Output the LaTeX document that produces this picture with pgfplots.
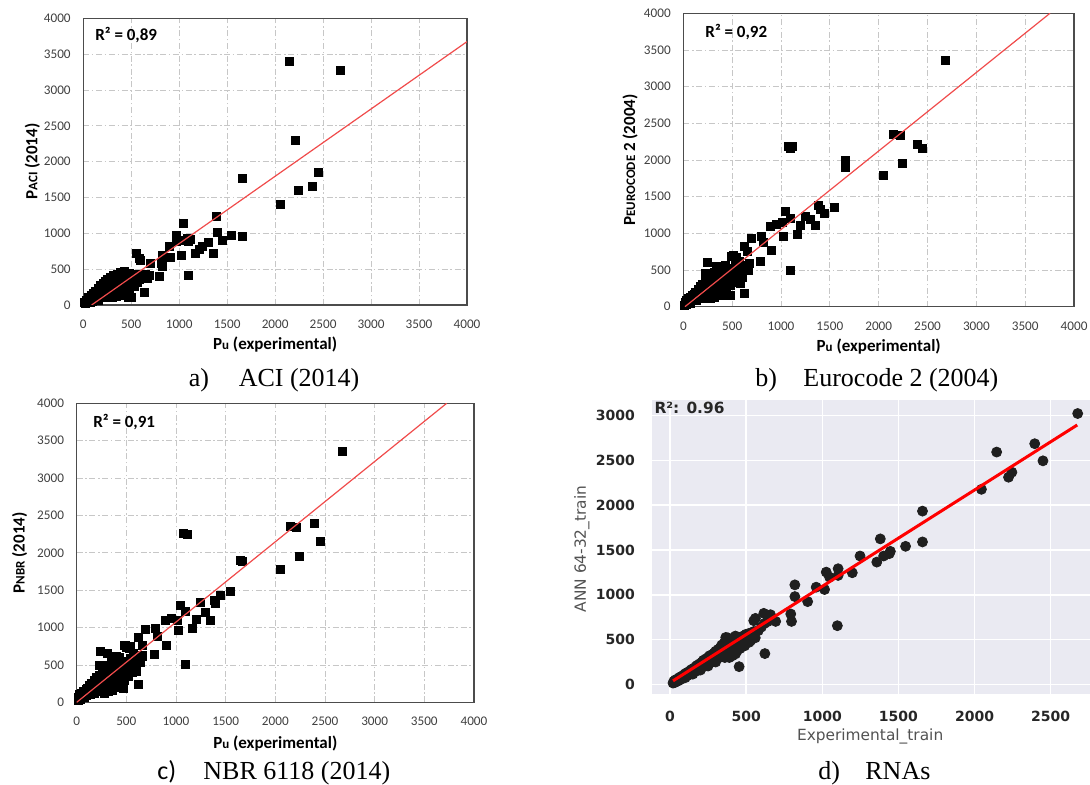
\documentclass[border=0pt]{standalone}
\usepackage{pgfplots}
\pgfplotsset{compat=1.18}
\usepackage{fontspec}
\setmainfont{Liberation Serif}
\newfontfamily\carlito{Carlito}
\newfontfamily\dejavu{DejaVu Sans}

\definecolor{redline}{RGB}{240,75,75}
\definecolor{sbbg}{RGB}{234,234,242}
\definecolor{sbtext}{RGB}{38,38,38}

% Excel-like panels a)-c)
\pgfplotsset{
  excel/.style={
    scale only axis, anchor=south west,
    xmin=0, xmax=4000, ymin=0, ymax=4000,
    xtick={0,500,...,4000}, ytick={0,500,...,4000},
    grid=major,
    grid style={black!22, line width=0.4pt, dash pattern=on 3pt off 1.3pt on 0.8pt off 1.3pt},
    major tick length=0pt,
    axis line style={black!70, line width=0.6pt},
    /pgf/number format/assume math mode=true,
    /pgf/number format/1000 sep={},
    ticklabel style={font=\carlito\fontsize{6.6}{7}\selectfont, text=black!75},
    xticklabel style={yshift=-4pt},
    yticklabel style={xshift=-2.8pt},
    label style={font=\carlito\bfseries\fontsize{8.5}{9}\selectfont},
    clip mode=individual,
  },
  pts/.style={only marks, mark=square*, mark size=2pt, black},
  fit/.style={redline, line width=0.6pt},
}
\newcommand{\rsq}[1]{\node[anchor=west, inner sep=0pt, font=\carlito\bfseries\fontsize{8.5}{10}\selectfont] at #1}
\newcommand{\capfont}{\fontsize{13}{15}\selectfont}

\begin{document}
\begin{tikzpicture}
\path[use as bounding box] (0,0) rectangle (545pt,392.5pt);

% ---------------- a) ACI
\begin{axis}[excel, at={(41.65pt,240pt)}, width=191.85pt, height=143.35pt,
  xlabel={P{\fontsize{6.5}{7}\selectfont u} (experimental)},
  ylabel={P{\fontsize{6.5}{7}\selectfont ACI} (2014)},
  xlabel style={at={(axis description cs:0.5,-0.1395)}, anchor=center},
  ylabel style={at={(axis description cs:-0.133,0.5)}, anchor=center}]
\addplot[pts] coordinates {
(2150,3395) (2678,3274) (2216,2293) (2449,1847) (2247,1595) (2393,1656) (2052,1400)
(1656,1763) (1663,963) (1548,972) (1384,1233) (1398,1014) (1450,907) (1357,721)
(1304,874) (1242,823) (1207,777) (1169,721) (1099,414) (1043,1140) (1026,698)
(967,977) (974,884) (1089,930) (1113,916) (1096,884) (897,814) (904,660) (824,698)
(810,581) (793,395) (703,581) (668,395) (633,172) (584,651) (556,721) (546,428)
(592,628) (828,544) (1009,907)
(15,40) (25,20) (30,70) (40,50) (50,30) (55,100) (65,70) (70,40) (80,130) (90,95)
(95,55) (105,160) (115,120) (120,75) (130,190) (140,150) (145,95) (155,230) (165,180)
(170,120) (180,270) (190,210) (195,140) (205,300) (215,240) (220,160) (230,330)
(240,270) (245,190) (255,360) (265,300) (270,210) (280,130) (285,390) (295,330)
(300,250) (305,170) (315,410) (325,350) (330,280) (340,200) (345,120) (355,430)
(365,370) (370,300) (380,220) (390,450) (400,390) (405,320) (415,250) (420,160)
(430,470) (440,410) (450,340) (455,270) (465,190) (470,110) (480,440) (490,370)
(495,300) (500,100) (510,400) (520,330) (530,260) (545,380) (560,320) (575,400)
(590,360) (610,430) (630,390) (650,420) (670,370) (690,410) (480,230) (440,140)
(380,130) (350,150) (280,170) (230,110) (160,60) (300,100)
};
\addplot[fit] coordinates {(87,0) (4000,3674)};
\rsq{(axis description cs:0.0305,0.942)} {R² = 0,89};
\end{axis}

% ---------------- b) Eurocode 2
\begin{axis}[excel, at={(341.67pt,239.17pt)}, width=195.35pt, height=146.7pt,
  xlabel={P{\fontsize{6.5}{7}\selectfont u} (experimental)},
  ylabel={P{\fontsize{6.5}{7}\selectfont EUROCODE} 2 (2004)},
  xlabel style={at={(axis description cs:0.5,-0.1365)}, anchor=center},
  ylabel style={at={(axis description cs:-0.136,0.5)}, anchor=center}]
\addplot[pts] coordinates {
(2679,3355) (2150,2355) (2218,2341) (2396,2214) (2447,2155) (2246,1955) (2051,1786)
(1655,2000) (1662,1895) (1075,2182) (1116,2191) (1099,2155) (1546,1355) (1382,1377)
(1399,1327) (1444,1273) (1352,1105) (1246,1227) (1304,1191) (1201,1114) (1167,986)
(1041,1305) (1099,1205) (1014,1145) (956,1127) (894,1091) (1024,964) (901,764)
(1092,491) (795,955) (819,873) (785,618) (693,936) (625,827) (659,750) (672,591)
(642,500) (625,182) (495,691) (546,668) (246,609)
(15,20) (20,60) (30,90) (35,30) (45,50) (50,110) (60,70) (70,130) (75,50) (85,100)
(95,150) (100,80) (110,170) (120,120) (125,200) (135,90) (140,150) (150,230) (160,130)
(165,190) (175,270) (180,110) (190,220) (200,300) (205,160) (215,260) (222,455)
(225,330) (230,200) (240,140) (250,290) (255,370) (265,230) (270,170) (280,330)
(285,420) (295,270) (300,200) (310,380) (315,470) (325,310) (330,240) (341,545)
(340,430) (355,350) (360,280) (370,200) (375,470) (385,400) (390,320) (427,559)
(405,250) (415,450) (420,370) (430,300) (440,160) (445,500) (455,420) (460,340)
(478,160) (480,520) (490,440) (500,380) (520,480) (530,420) (540,560) (560,450)
(580,520) (600,480) (620,560) (640,520) (600,400) (560,380) (520,330) (480,290)
(440,230) (400,190) (360,150) (320,130) (280,110) (512,705) (530,650) (570,620)
(580,319) (665,500)
};
\addplot[fit] coordinates {(17,0) (3754,4000)};
\rsq{(axis description cs:0.0555,0.936)} {R² = 0,92};
\end{axis}

% ---------------- c) NBR 6118
\begin{axis}[excel, at={(38.33pt,41.33pt)}, width=198.65pt, height=149.5pt,
  xlabel={P{\fontsize{6.5}{7}\selectfont u} (experimental)},
  ylabel={P{\fontsize{6.5}{7}\selectfont NBR} (2014)},
  xlabel style={at={(axis description cs:0.5,-0.137)}, anchor=center},
  ylabel style={at={(axis description cs:-0.1435,0.5)}, anchor=center}]
\addplot[pts] coordinates {
(2678,3353) (2148,2350) (2215,2341) (2393,2395) (2450,2149) (2242,1949) (2050,1784)
(1651,1904) (1668,1882) (1074,2261) (1114,2252) (1544,1480) (1443,1427) (1386,1360)
(1399,1324) (1242,1338) (1299,1200) (1349,1101) (1201,1110) (1164,990) (1040,1302)
(1094,1213) (1013,1101) (1023,968) (956,1119) (896,1101) (899,767) (1094,513)
(792,990) (815,878) (782,642) (688,977) (621,870) (661,758) (664,624) (624,245)
(490,767) (537,754) (235,678)
(15,30) (20,70) (30,100) (35,40) (45,60) (50,120) (60,80) (70,150) (75,60) (85,110)
(95,170) (100,90) (110,190) (120,130) (125,230) (135,100) (140,170) (150,260) (160,140)
(165,210) (175,300) (180,120) (190,240) (200,330) (205,170) (215,280) (225,500)
(230,360) (235,210) (245,150) (250,310) (260,400) (265,250) (275,180) (280,350)
(290,450) (295,290) (300,210) (309,655) (315,400) (320,500) (330,330) (335,250)
(345,460) (350,600) (360,370) (365,290) (375,210) (380,500) (390,420) (395,340)
(405,620) (410,260) (420,470) (425,390) (435,310) (460,209) (450,530) (460,440)
(465,360) (475,190) (485,550) (495,460) (500,400) (520,500) (535,440) (545,590)
(560,470) (580,540) (600,500) (620,590) (640,540) (600,420) (560,400) (520,350)
(480,300) (440,240) (400,200) (360,160) (320,140) (280,120) (500,740) (530,720)
(575,650) (660,620) (380,580) (430,600) (476,767)
};
\addplot[fit] coordinates {(0,0) (3725,4000)};
\rsq{(axis description cs:0.041,0.9375)} {R² = 0,91};
\end{axis}

% ---------------- d) RNAs (seaborn look)
\begin{axis}[scale only axis, anchor=south west,
  at={(326pt,45.5pt)}, width=219pt, height=147pt,
  xmin=-118, xmax=2758, ymin=-107, ymax=3174,
  xtick={0,500,...,2500}, ytick={0,500,...,3000},
  axis background/.style={fill=sbbg},
  axis line style={draw=none},
  grid=major, grid style={white, line width=0.7pt},
  major tick length=0pt,
  /pgf/number format/assume math mode=true,
  /pgf/number format/1000 sep={},
  ticklabel style={font=\dejavu\bfseries\fontsize{7}{8}\selectfont, text=sbtext},
  xticklabel style={yshift=-5pt},
  yticklabel style={xshift=-5pt},
  label style={font=\dejavu\fontsize{7.7}{9}\selectfont, text=black!68},
  xlabel={Experimental\_train},
  ylabel={ANN 64-32\_train},
  xlabel style={at={(axis description cs:0.498,-0.146)}, anchor=center},
  ylabel style={at={(axis description cs:-0.160,0.493)}, anchor=center},
  clip mode=individual]
\addplot[only marks, mark=*, mark size=2.5pt, color=black!88] coordinates {
(2677,3023) (2395,2686) (2449,2495) (2145,2593) (2223,2312) (2245,2368) (2045,2177)
(1658,1934) (1658,1590) (1381,1624) (1358,1365) (1403,1433) (1447,1485) (1440,1459)
(1547,1541) (1248,1433) (1197,1246) (1104,1291) (1104,1216) (1026,1253) (1048,1197)
(1015,1059) (960,1085) (904,924) (1099,655) (820,1111) (820,980) (793,786) (798,703)
(694,703) (616,793) (660,778) (561,737) (550,711) (623,344) (454,198) (366,524)
(20,15) (25,35) (30,20) (35,50) (40,30) (50,60) (55,40) (60,75) (70,55) (75,90)
(80,70) (90,105) (95,80) (100,120) (110,95) (115,135) (120,105) (130,150) (135,115)
(140,165) (150,130) (155,180) (160,140) (170,200) (175,150) (180,215) (190,170)
(195,230) (200,180) (210,250) (215,195) (220,270) (230,205) (235,285) (240,220)
(250,300) (255,235) (260,320) (270,245) (275,330) (280,260) (290,350) (295,265)
(300,370) (310,285) (315,390) (320,300) (330,410) (335,310) (340,440) (350,325)
(355,460) (360,300) (370,480) (375,350) (380,520) (390,370) (395,460) (400,380)
(410,500) (420,400) (430,540) (440,420) (450,520) (460,440) (470,480) (480,540)
(490,470) (500,560) (510,500) (520,570) (530,490) (540,550) (550,590) (560,520)
(580,600) (600,640) (620,680) (640,700) (440,370) (420,350) (400,330) (380,310)
(460,400) (490,430) (520,470) (300,250) (250,205) (200,160) (150,115) (100,75)
(390,300) (410,320) (430,340)
};
\addplot[red, line width=1.5pt] coordinates {(20,40) (2674,2895)};
\node[anchor=west, inner sep=0pt, font=\dejavu\bfseries\fontsize{7.7}{9}\selectfont, text=sbtext]
  at (axis description cs:0.005,0.973) {R²: 0.96};
\end{axis}

% ---------------- captions
\node[anchor=base west, inner sep=0pt, font=\capfont] at (94.2pt,199.2pt) {\makebox[25pt][l]{a)}ACI (2014)};
\node[anchor=base west, inner sep=0pt, font=\capfont] at (377.5pt,199.2pt) {\makebox[24pt][l]{b)}Eurocode 2 (2004)};
\node[anchor=base west, inner sep=0pt, font=\capfont] at (78.5pt,2.5pt) {\makebox[23pt][l]{\carlito c)}NBR 6118 (2014)};
\node[anchor=base west, inner sep=0pt, font=\capfont] at (409pt,2.5pt) {\makebox[23.5pt][l]{d)}RNAs};
\end{tikzpicture}
\end{document}
